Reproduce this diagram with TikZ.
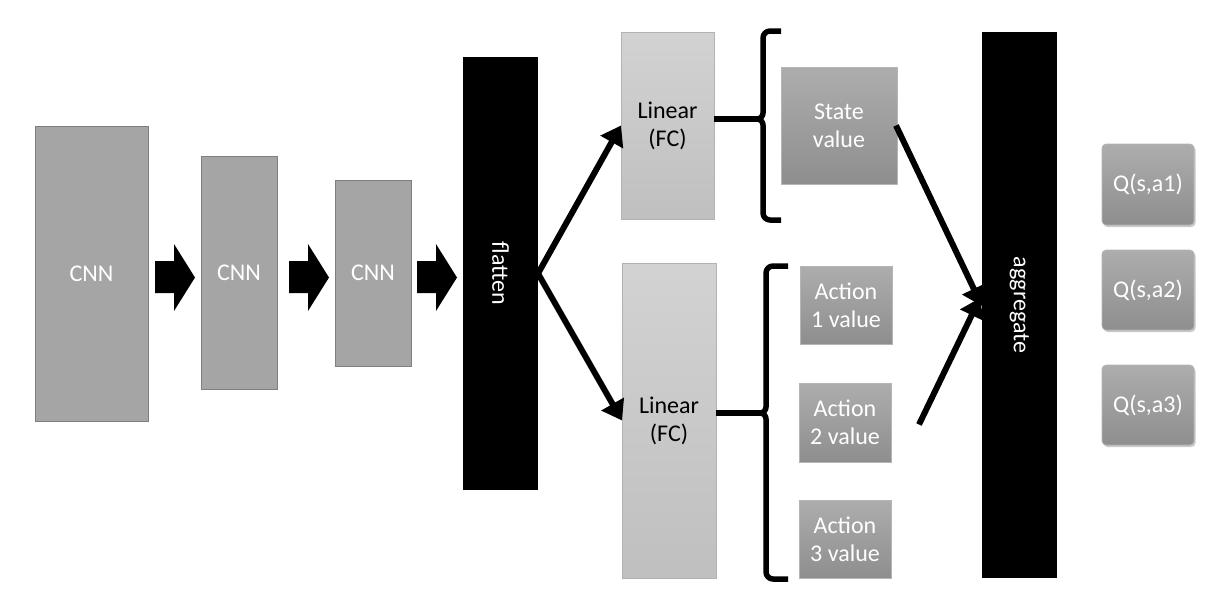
\documentclass[tikz,border=0pt]{standalone}
\usepackage{fontspec}
\setmainfont{Carlito}
\usetikzlibrary{arrows.meta,shadows}
\definecolor{cnngray}{HTML}{A5A5A5}
\definecolor{cnnedge}{HTML}{7F7F7F}
\definecolor{linfill}{HTML}{D0D0D0}
\definecolor{linedge}{HTML}{B2B2B2}
\definecolor{valtop}{HTML}{ADADAD}
\definecolor{valbot}{HTML}{8E8E8E}
\tikzset{
  box/.style={rectangle, inner sep=0pt, outer sep=0pt, align=center,
    font=\fontsize{24}{28}\selectfont},
  cnnbox/.style={box, fill=cnngray, draw=cnnedge, line width=1pt, text=white},
  blackbox/.style={box, fill=black, text=white},
  linbox/.style={box, top color=linfill!95!white, bottom color=linfill!92!black, draw=linedge, line width=1pt, text=black},
  valbox/.style={box, top color=valtop, bottom color=valbot, draw=valtop!90!white, line width=0.6pt, text=white},
  qbox/.style={valbox, rounded corners=4pt, drop shadow={shadow xshift=1.5pt, shadow yshift=-2pt, opacity=0.35, fill=black!60}},
  thickarrow/.style={line width=6pt, -{Triangle[length=19pt,width=25pt]}},
  thickline/.style={line width=6pt},
  bracepath/.style={line width=5.5pt, line join=round},
}
\begin{document}
\begin{tikzpicture}[x=1pt,y=-1pt]
\useasboundingbox (0,0) rectangle (1226,614);
% CNN stack
\node[cnnbox, minimum width=113pt, minimum height=295pt] (c1) at (91.5,273.5) {CNN};
\node[cnnbox, minimum width=76pt, minimum height=233pt] (c2) at (239,272.5) {CNN};
\node[cnnbox, minimum width=76pt, minimum height=186pt] (c3) at (373,273) {CNN};
\node[blackbox, minimum width=75pt, minimum height=433pt] (flat) at (500.5,273.5) {};
\node[box, text=white, rotate=-90] (flattxt) at (flat.center) {flatten};
% block arrows
\foreach \x in {155,289,417}{
  \fill (\x,261) -- (\x+19,261) -- (\x+19,244) -- (\x+40,277.5) -- (\x+19,311) -- (\x+19,293) -- (\x,293) -- cycle;
}
% linear layers
\node[linbox, minimum width=93pt, minimum height=187pt] (lin1) at (667.5,125.5) {Linear\\(FC)};
\node[linbox, minimum width=94pt, minimum height=315pt] (lin2) at (669,420.5) {Linear\\(FC)};
\draw[thickarrow] (flat.east) -- (lin1.west);
\draw[thickarrow] (flat.east) -- (lin2.west);
% braces
\coordinate (nub1) at (757,119);
\coordinate (nub2) at (760,413);
\draw[bracepath] (781,31) -- (770,31) to[out=180,in=90] (763,38) -- (763,113) to[out=-90,in=0] (nub1) to[out=0,in=90] (763,125) -- (763,213) to[out=-90,in=180] (770,220) -- (781,220);
\draw[bracepath] (788,266) -- (773,266) to[out=180,in=90] (766,273) -- (766,407) to[out=-90,in=0] (nub2) to[out=0,in=90] (766,419) -- (766,572) to[out=-90,in=180] (773,579) -- (788,579);
\draw[thickline] (lin1.east |- nub1) -- (nub1);
\draw[thickline] (lin2.east |- nub2) -- (nub2);
% value boxes
\node[valbox, minimum width=116pt, minimum height=117pt] (sv) at (839,125.5) {State\\value};
\node[valbox, minimum width=92pt, minimum height=78pt] (a1) at (846,305) {Action\\1 value};
\node[valbox, minimum width=92pt, minimum height=79pt] (a2) at (845,422.5) {Action\\2 value};
\node[valbox, minimum width=92pt, minimum height=78pt] (a3) at (845,539) {Action\\3 value};
% aggregate
\node[blackbox, minimum width=75pt, minimum height=546pt] (agg) at (1019.5,305) {};
\node[box, text=white, rotate=-90] (aggtxt) at (agg.center) {aggregate};
\draw[thickarrow] ([xshift=-1pt]sv.east) -- ([yshift=-1pt]agg.west);
\draw[thickarrow] ([xshift=28pt,yshift=-2pt]a2.east) -- ([xshift=-2pt,yshift=7pt]agg.west);
% outputs
\node[qbox, minimum width=92pt, minimum height=81pt] (q1) at (1148,184.5) {Q(s,a1)};
\node[qbox, minimum width=92pt, minimum height=80pt] (q2) at (1148,290) {Q(s,a2)};
\node[qbox, minimum width=92pt, minimum height=80pt] (q3) at (1148,405) {Q(s,a3)};
\end{tikzpicture}
\end{document}
